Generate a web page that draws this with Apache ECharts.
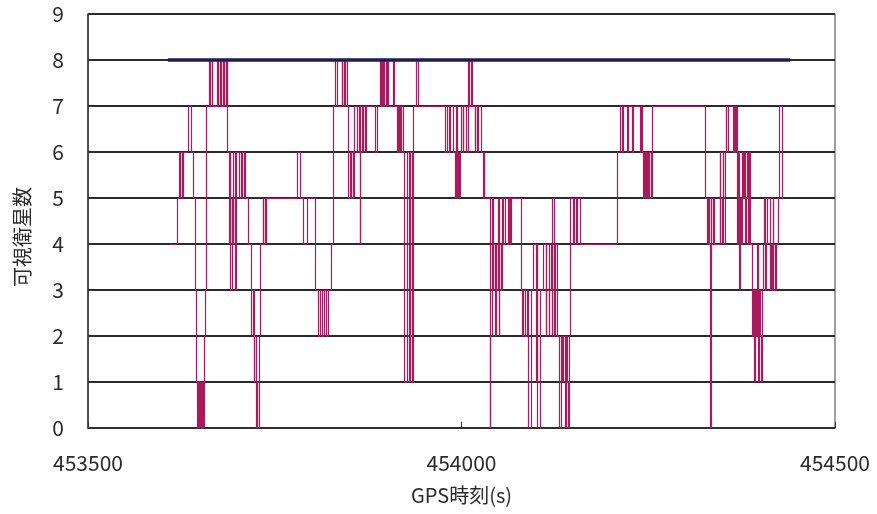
<!DOCTYPE html>
<html><head><meta charset="utf-8">
<script src="https://cdn.jsdelivr.net/npm/echarts@6/dist/echarts.min.js"></script>
<style>html,body{margin:0;padding:0;background:#fff}#c{width:877px;height:514px}</style>
</head><body><div id="c"></div>
<script>
// GPS time (s) at which the visible-satellite count changes
const gpsTime = [
453610,453620,453622,453623,453624,453626,453627,453634,453638,453641,453643,453645,453646,453647,453649,453650,453651,453653,453654,453655,
453657,453658,453662,453663,453666,453667,453673,453674,453675,453677,453678,453679,453681,453682,453683,453685,453686,453687,453689,453690,
453691,453693,453694,453695,453697,453698,453699,453703,453705,453707,453709,453711,453715,453718,453719,453721,453722,453723,453725,453726,
453727,453729,453730,453731,453734,453735,453737,453738,453739,453780,453784,453788,453793,453804,453808,453811,453813,453816,453819,453821,
453825,453828,453831,453833,453840,453841,453843,453844,453845,453847,453848,453849,453851,453852,453853,453855,453856,453857,453861,453863,
453864,453865,453867,453868,453869,453871,453872,453884,453887,453891,453892,453894,453895,453896,453899,453900,453902,453908,453910,453914,
453915,453916,453918,453919,453920,453922,453924,453927,453930,453931,453934,453935,453940,453942,453978,453981,453983,453985,453989,453991,
453993,453994,453995,453997,453998,453999,454002,454003,454007,454009,454010,454013,454014,454018,454019,454021,454022,454027,454029,454030,
454031,454038,454039,454041,454042,454043,454045,454046,454047,454049,454050,454051,454053,454054,454056,454058,454062,454064,454065,454066,
454080,454081,454082,454085,454088,454090,454093,454096,454100,454101,454102,454105,454110,454113,454114,454117,454118,454120,454121,454122,
454124,454125,454128,454131,454133,454135,454136,454139,454140,454141,454143,454144,454145,454149,454151,454153,454155,454159,454208,454212,
454215,454216,454222,454223,454228,454230,454239,454240,454242,454243,454244,454246,454247,454248,454250,454251,454252,454254,454255,454256,
454326,454329,454330,454331,454333,454334,454335,454337,454338,454346,454347,454349,454350,454351,454353,454354,454355,454357,454364,454365,
454366,454368,454369,454370,454372,454373,454374,454376,454377,454378,454380,454381,454382,454384,454385,454386,454389,454390,454392,454393,
454394,454396,454397,454398,454400,454401,454402,454404,454405,454406,454408,454409,454413,454414,454416,454417,454418,454420,454421,454422,
454424,454426,454429,454432
];
// visible satellite count from that time on
const satCount = [
4,5,6,5,6,5,6,7,6,5,3,1,0,1,0,1,0,1,0,2,
3,7,8,7,8,7,8,7,8,7,8,7,8,7,8,7,8,6,4,6,
3,5,4,6,3,5,6,5,6,5,6,5,4,3,2,3,1,2,0,1,
0,2,3,4,5,4,5,4,5,6,5,4,5,3,2,3,2,3,2,3,
4,7,8,7,8,7,8,7,8,7,6,5,6,5,6,5,6,7,6,7,
4,6,7,6,7,6,7,6,7,8,7,8,7,8,7,8,7,8,7,6,
7,6,7,6,7,6,1,6,1,6,1,7,8,7,6,7,6,7,6,5,
7,5,6,5,6,7,6,7,6,8,7,8,7,6,7,6,7,6,5,6,
5,0,2,5,3,4,2,4,3,5,2,4,3,5,4,5,4,5,4,5,
3,2,3,2,3,0,3,4,1,4,0,3,4,2,4,2,3,4,2,5,
2,4,2,0,2,1,2,0,2,1,0,2,5,4,5,4,5,4,6,7,
6,7,6,7,6,7,6,7,6,5,6,5,6,5,6,5,6,5,6,7,
5,4,5,4,0,5,4,5,4,6,4,5,6,4,6,7,6,7,6,7,
6,7,4,6,3,5,4,6,5,6,4,5,6,4,6,4,2,3,1,3,
2,4,1,3,2,1,3,4,5,3,4,5,3,4,3,5,3,4,3,4,
5,7,5,5
];
// reference (open sky) satellite count
const refTime = [453607, 454440];
const refCount = [8, 8];
const xTicks = [453500, 454000, 454500];
const yTicks = [0,1,2,3,4,5,6,7,8,9];

// step path split into individual horizontal / vertical segments
const stepSegments = [];
for (let i = 0; i < gpsTime.length - 1; i++) {
  stepSegments.push({coords: [[gpsTime[i], satCount[i]], [gpsTime[i + 1], satCount[i]]]});
  if (satCount[i + 1] !== satCount[i]) {
    stepSegments.push({coords: [[gpsTime[i + 1], satCount[i]], [gpsTime[i + 1], satCount[i + 1]]]});
  }
}

const chart = echarts.init(document.getElementById('c'), null, {renderer:'canvas'});
const font = '"Noto Sans CJK JP","Noto Sans",sans-serif';
chart.setOption({
  animation:false,
  backgroundColor:'#fff',
  grid:{left:88,right:42,top:14,bottom:86,show:true,borderColor:'#444',borderWidth:1,backgroundColor:'transparent'},
  xAxis:{type:'value',min:xTicks[0],max:xTicks[xTicks.length-1],interval:500,
    name:'GPS時刻(s)',nameLocation:'middle',nameGap:57,
    nameTextStyle:{fontFamily:font,fontSize:20,color:'#2a2a2a'},
    axisLine:{show:true,lineStyle:{color:'#333',width:1.5}},
    axisTick:{show:true,inside:true,length:6,lineStyle:{color:'#333'}},
    axisLabel:{fontFamily:font,fontSize:21,color:'#2a2a2a',margin:25,formatter:v=>String(v)},
    splitLine:{show:false}},
  yAxis:{type:'value',min:yTicks[0],max:yTicks[yTicks.length-1],interval:1,
    axisLine:{show:true,lineStyle:{color:'#333',width:1.5}},
    axisTick:{show:true,inside:true,length:6,lineStyle:{color:'#333'}},
    axisLabel:{fontFamily:font,fontSize:21,color:'#2a2a2a',margin:24},
    splitLine:{show:true,lineStyle:{color:'#2a2a2a',width:2}}},
  graphic:[{type:'text',rotation:Math.PI/2,x:12,y:287,
    style:{text:'可視衛星数',fontFamily:font,fontSize:20,fill:'#2a2a2a'}}],
  series:[
    {type:'lines',coordinateSystem:'cartesian2d',polyline:false,large:false,
     data:stepSegments,effect:{show:false},
     lineStyle:{color:'#a81c5e',width:1.2,opacity:1,curveness:0},z:3},
    {type:'line',symbol:'none',data:refTime.map((t,i)=>[t,refCount[i]]),
     lineStyle:{color:'#1e1d52',width:3.5},z:4}
  ]
});
</script></body></html>
